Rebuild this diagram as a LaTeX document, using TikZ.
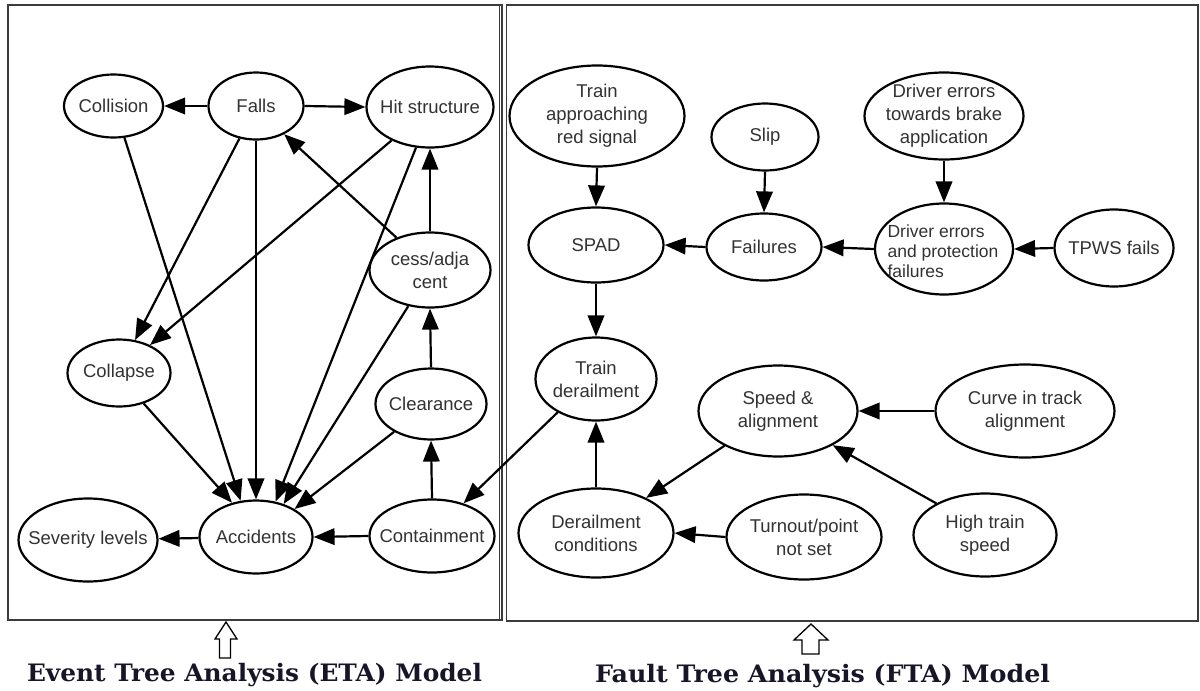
\documentclass[tikz,border=0pt]{standalone}
\usepackage{fontspec}
\setmainfont{Liberation Sans}
\newfontfamily\capfont{DejaVu Serif}
\usetikzlibrary{shapes.geometric,arrows.meta}

\definecolor{textgray}{RGB}{50,50,50}
\definecolor{framegray}{RGB}{60,60,60}
\definecolor{capink}{RGB}{22,22,40}

\tikzset{
  ell/.style={draw=black, line width=2.2pt, ellipse, fill=white, inner sep=0pt},
  txt/.style={font=\fontsize{18.5}{23}\selectfont, text=textgray, align=center, inner sep=0pt},
  link/.style={line width=2.2pt, -{Triangle[length=21pt,width=16.5pt]}},
  panel/.style={draw=framegray, line width=1.5pt},
  hollowarrow/.style={draw=black, line width=1.3pt, fill=white, line join=miter},
  caption/.style={font=\capfont\bfseries\fontsize{24}{28}\selectfont, text=capink, inner sep=0pt, anchor=base}
}

% \ellnode{name}{x}{y}{width}{height}{text}
\newcommand\ellnode[6]{%
  \node[ell, minimum width=#4pt, minimum height=#5pt] (#1) at (#2,#3) {};
  \node[txt] (#1-t) at (#1) {#6};}

\begin{document}
\begin{tikzpicture}[x=1pt, y=-1pt]
\useasboundingbox (0,0) rectangle (1200,691);
\fill[white] (0,0) rectangle (1200,691);

% panels
\draw[panel] (8,5) rectangle (502,620);
\draw[framegray, line width=1pt] (499.3,5) -- (499.3,620);
\draw[panel] (506.5,5) rectangle (1198,621);

% ---------- event tree ----------
\ellnode{coll}{113.5}{106}{99}{63}{Collision}
\ellnode{falls}{256}{106}{95}{67}{Falls}
\ellnode{hit}{430}{107}{127}{81}{Hit structure}
\ellnode{cess}{430}{270}{121}{75}{cess/adja\\cent}
\ellnode{collapse}{119}{373}{103}{67}{Collapse}
\ellnode{clear}{431}{404}{111}{71}{Clearance}
\ellnode{sev}{88}{540}{139}{83}{Severity levels}
\ellnode{acc}{256}{537}{113}{73}{Accidents}
\ellnode{cont}{432}{536}{125}{73}{Containment}

\draw[link] (falls.west) -- (coll.east);
\draw[link] (falls.east) -- (hit.west);
\draw[link] (coll.-71) -- (acc.113);
\draw[link] (falls.-117) -- (collapse.64);
\draw[link] (falls.south) -- (acc.north);
\draw[link] (hit.-139) -- (collapse.42);
\draw[link] (hit.-109) -- (acc.61);
\draw[link] (cess.136) -- (falls.-45);
\draw[link] (cess.north) -- (hit.south);
\draw[link] (cess.-121) -- (acc.50);
\draw[link] (collapse.-51) -- (acc.125);
\draw[link] (clear.-143) -- (acc.36);
\draw[link] (clear.north) -- (cess.south);
\draw[link] (cont.north) -- (clear.south);
\draw[link] (cont.west) -- (acc.east);
\draw[link] (acc) -- (sev);

% ---------- fault tree ----------
\ellnode{trap}{597}{116}{175}{101}{Train\\approaching\\red signal}
\ellnode{slip}{765}{137}{107}{67}{Slip}
\ellnode{drvb}{944}{116}{159}{87}{Driver errors\\towards brake\\application}
\ellnode{spad}{596}{245}{135}{75}{SPAD}
\ellnode{fail}{764}{247}{115}{67}{Failures}
\node[ell, minimum width=138pt, minimum height=91pt] (drvp) at (944,249) {};
\node[txt, align=left, font=\fontsize{17.5}{20}\selectfont] (drvp-t) at (943,251) {Driver errors\\and protection\\failures};
\ellnode{tpws}{1114}{248}{119}{77}{TPWS fails}
\ellnode{tder}{596}{379}{121}{83}{Train\\derailment}
\ellnode{speed}{778}{411}{159}{91}{Speed \&\\alignment}
\ellnode{curve}{1025}{411}{179}{93}{Curve in track\\alignment}
\ellnode{dcond}{596}{533}{155}{89}{Derailment\\conditions}
\ellnode{turn}{804}{537}{155}{85}{Turnout/point\\not set}
\ellnode{high}{985}{535}{143}{83}{High train\\speed}

\draw[link] (trap.south) -- (spad.north);
\draw[link] (slip.south) -- (fail.north);
\draw[link] (fail.west) -- (spad.east);
\draw[link] (drvb.south) -- (drvp.north);
\draw[link] (drvp.west) -- (fail.east);
\draw[link] (tpws.west) -- (drvp.east);
\draw[link] (spad.south) -- (tder.north);
\draw[link] (dcond.north) -- (tder.south);
\draw[link] (speed.-147) -- (dcond.35);
\draw[link] (curve.west) -- (speed.east);
\draw[link] (high.147) -- (speed.-32);
\draw[link] (turn.west) -- (dcond.east);

% link between the two models
\draw[link] (tder.-139) -- (cont.46);

% ---------- captions ----------
\draw[hollowarrow] (226,622) -- (237,639) -- (230.5,639) -- (230.5,658)
  -- (219.5,658) -- (219.5,639) -- (215,639) -- cycle;
\draw[hollowarrow] (811,624) -- (828,640) -- (819,640) -- (819,654)
  -- (802,654) -- (802,640) -- (794,640) -- cycle;
\node[caption] (etacap) at (254.5,681) {\resizebox{455pt}{\height}{Event Tree Analysis (ETA) Model}};
\node[caption] (ftacap) at (822.5,682) {\resizebox{455pt}{\height}{Fault Tree Analysis (FTA) Model}};
\end{tikzpicture}
\end{document}
